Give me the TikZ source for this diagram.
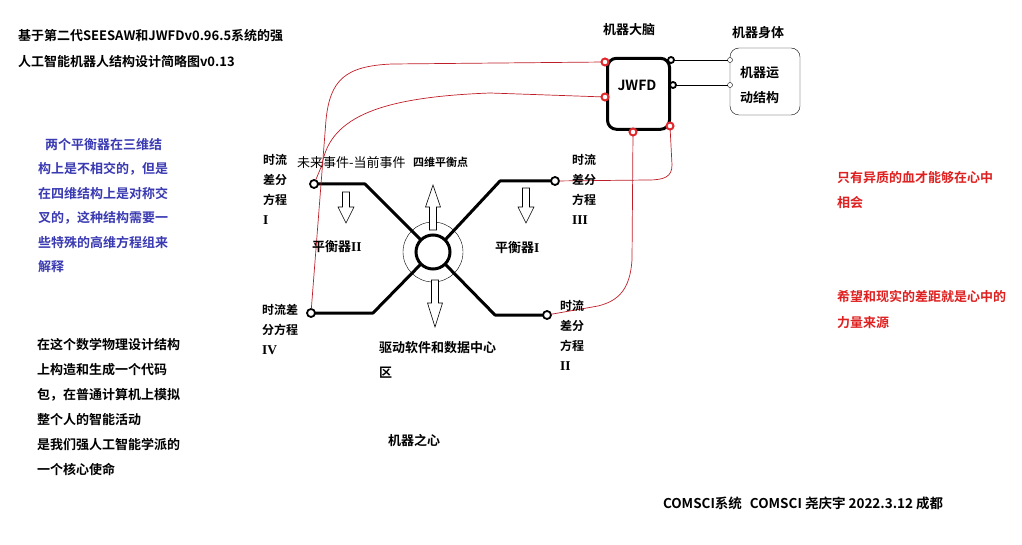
\documentclass[tikz,border=0pt]{standalone}
\usepackage{fontspec}
\setmainfont{Noto Sans CJK SC}[BoldFont={Noto Sans CJK SC Bold}]
\newfontfamily\rmn{Liberation Serif}
\definecolor{noteblue}{RGB}{58,58,178}
\definecolor{notered}{RGB}{222,32,32}
\definecolor{wirered}{RGB}{190,30,40}
\definecolor{portred}{RGB}{225,40,45}
\begin{document}
\begin{tikzpicture}[x=1pt, y=-1pt]
\tikzset{ >=latex, inner sep=0pt, outer sep=0pt,
  txt/.style={anchor=west, font=\fontsize{13}{13}\selectfont\bfseries},
  para/.style={anchor=north west, align=left, font=\fontsize{13}{#1}\selectfont\bfseries},
  eqtxt/.style={anchor=north west, align=left, font=\fontsize{12}{20}\selectfont\bfseries},
  port/.style={circle, draw, line width=1.8pt, fill=white, minimum size=8pt},
  redport/.style={circle, draw=portred, line width=2pt, fill=white, minimum size=7pt},
  tinyport/.style={circle, draw, thin, fill=white, minimum size=5pt},
  beam/.style={line width=3pt, line join=round},
  hollow/.style={draw, fill=white, line width=0.6pt},
  wire/.style={draw=wirered, line width=0.7pt},
}
\newcommand\numeral[1]{{\rmn\bfseries\fontsize{13.5}{13.5}\selectfont #1}}
\useasboundingbox (0,0) rectangle (1022,545);

%\draw [lightgray, dashed](0,0) grid[step=50] (1022,545);

% brain and body
\node [draw, line width=3pt, rounded corners=9pt, minimum width=62pt, minimum height=71pt] (jwfd) at (638.5,93.8) {};
\node [font=\fontsize{14}{14}\selectfont\bfseries] (jwfdtxt) at (637,85) {JWFD};
\node [draw, thin, rounded corners=9pt, minimum width=70pt, minimum height=67pt] (body) at (765,81.5) {};
\node [para={25}] (bodytxt) at (740,66.5) {机器运\\动结构};
\node [txt] (braintitle) at (603,30) {机器大脑};
\node [txt] (bodytitle) at (732,33) {机器身体};

\node [port, minimum size=6pt] (outA) at (671,60) {};
\node [port, minimum size=6pt] (outB) at (673,85) {};
\node [tinyport] (inA) at (730,60) {};
\node [tinyport] (inB) at (730,85) {};
\draw [thin] (outA) -- (inA);
\draw [thin] (outB) -- (inB);

% the four-dimensional balance point
\draw [thin] (433,252) circle [radius=30pt];
\node [circle, draw, line width=3pt, minimum size=34pt] (core) at (433,252) {};

\node [port] (eqI)   at (314,184) {};
\node [port] (eqIII) at (555,181) {};
\node [port] (eqIV)  at (311,313) {};
\node [port] (eqII)  at (547,315) {};

\draw [beam] (eqI)   -- (365,184) -- (core.135);
\draw [beam] (eqIII) -- (500,181) -- (core.45);
\draw [beam] (eqIV)  -- (373,313) -- (core.225);
\draw [beam] (eqII)  -- (495,315) -- (core.315);

\draw [hollow] (429.5,230) -- (429.5,207) -- (425.5,207) -- (433,185) -- (440.5,207) -- (436.5,207) -- (436.5,230) -- cycle;
\draw [hollow] (431.5,280) -- (438.5,280) -- (438.5,303) -- (442.5,303) -- (435,327) -- (427.5,303) -- (431.5,303) -- cycle;
\draw [hollow] (342.5,192) -- (349.5,192) -- (349.5,207) -- (354,207) -- (346,223) -- (338,207) -- (342.5,207) -- cycle;
\draw [hollow] (522.5,188) -- (529.5,188) -- (529.5,207) -- (534,207) -- (526,223) -- (518,207) -- (522.5,207) -- cycle;

% red wires from the brain
\node [redport] (jwA) at (605,62) {};
\node [redport] (jwB) at (605,97) {};
\node [redport] (jwC) at (633,132) {};
\node [redport] (jwD) at (670,126) {};

\draw [wire] (jwA) -- (392,64) .. controls (345,66) and (330,80) .. (326,120) -- (eqIV);
\draw [wire] (jwB) -- (490,93) .. controls (385,97) and (330,115) .. (322,165) -- (eqI);
\draw [wire] (jwD) -- (672,165) .. controls (672,177) and (664,180) .. (648,180) -- (eqIII);
\draw [wire] (jwC) -- (632,260) .. controls (630,290) and (618,301) .. (598,306) -- (eqII);

% labels
\node [eqtxt] (lblI)   at (263,154) {时流\\差分\\方程\\\numeral{I}};
\node [eqtxt] (lblIII) at (572,154) {时流\\差分\\方程\\\numeral{III}};
\node [eqtxt] (lblIV)  at (262,304) {时流差\\分方程\\\numeral{IV}};
\node [eqtxt] (lblII)  at (560,300) {时流\\差分\\方程\\\numeral{II}};

\node [anchor=west, font=\fontsize{13}{13}\selectfont] (events) at (297,163) {未来事件-当前事件};
\node [anchor=west, font=\fontsize{11}{11}\selectfont\bfseries] (point4d) at (413,162) {四维平衡点};
\node [txt] (balII) at (312,247) {平衡器\numeral{II}};
\node [txt] (balI) at (495,248) {平衡器\numeral{I}};
\node [para={25}] (drive) at (379,341.5) {驱动软件和数据中心\\区};
\node [txt] (heart) at (388,440) {机器之心};

\node [para={26}] (title) at (18,29.5) {基于第二代SEESAW和JWFDv0.96.5系统的强\\人工智能机器人结构设计简略图v0.13};
\node [para={24.4}, text=noteblue] (note) at (38,138.5) {\hspace*{7pt}两个平衡器在三维结\\构上是不相交的，但是\\在四维结构上是对称交\\叉的，这种结构需要一\\些特殊的高维方程组来\\解释};
\node [para={25}] (mission) at (37,338.5) {在这个数学物理设计结构\\上构造和生成一个代码\\包，在普通计算机上模拟\\整个人的智能活动\\是我们强人工智能学派的\\一个核心使命};
\node [para={25}, text=notered] (blood) at (837,171.5) {只有异质的血才能够在心中\\相会};
\node [para={26}, text=notered] (hope) at (837,290.5) {希望和现实的差距就是心中的\\力量来源};
\node [anchor=west, font=\fontsize{13.5}{13.5}\selectfont\bfseries] (sign) at (663,503) {COMSCI系统\hspace{8pt}COMSCI 尧庆宇 2022.3.12 成都};

\end{tikzpicture}
\end{document}
